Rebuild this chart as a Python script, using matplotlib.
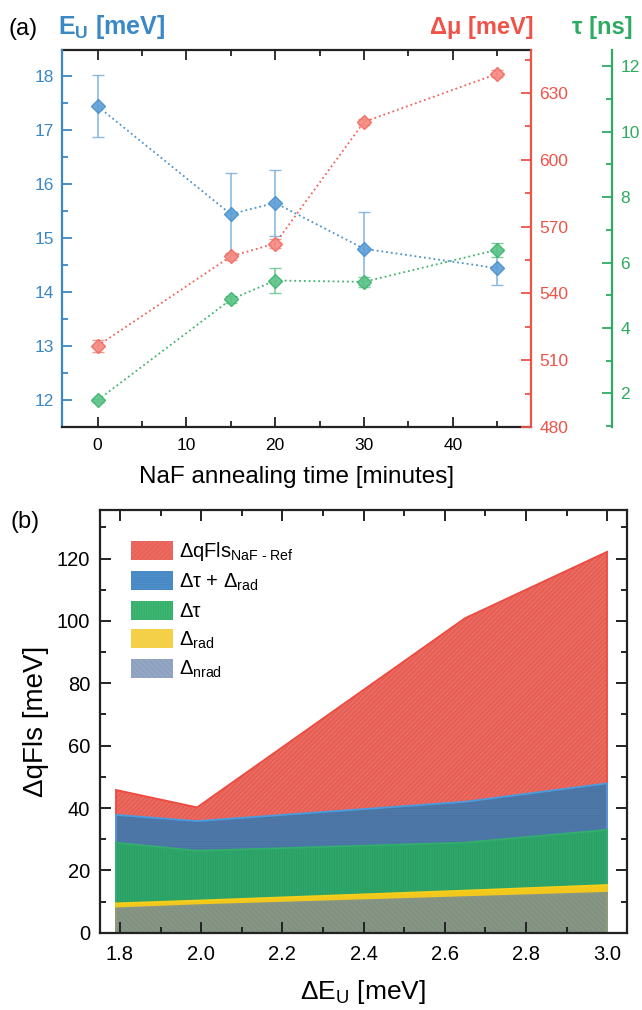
# Two-panel figure: (a) E_U, delta mu and tau vs NaF annealing time, (b) qFLS loss breakdown
import numpy as np
import matplotlib
matplotlib.use("Agg")
import matplotlib.pyplot as plt
import matplotlib.patches as mpatches
from matplotlib.ticker import MultipleLocator, FormatStrFormatter, NullFormatter

plt.rcParams['font.family'] = ['Liberation Sans', 'DejaVu Sans']
plt.rcParams['mathtext.fontset'] = 'custom'
plt.rcParams['mathtext.rm'] = 'Liberation Sans'
plt.rcParams['mathtext.it'] = 'Liberation Sans:italic'
plt.rcParams['mathtext.bf'] = 'Liberation Sans:bold'
plt.rcParams['hatch.linewidth'] = 0.6

# ---- panel (a) data ----
anneal_time = [0, 15, 20, 30, 45]
e_u = [17.44, 15.44, 15.65, 14.80, 14.44]
e_u_err = [0.58, 0.76, 0.61, 0.68, 0.31]
delta_mu = [516.4, 556.6, 562.4, 617.0, 638.6]
delta_mu_err = [2.7, 1.5, 2.0, 1.5, 1.5]
tau_ns = [1.79, 4.87, 5.45, 5.41, 6.39]
tau_err = [0.05, 0.1, 0.37, 0.15, 0.22]

# ---- panel (b) data ----
delta_eu = [1.79, 1.99, 2.65, 3.0]
qfls_naf_ref = [45.8, 40.2, 100.9, 122.2]
tau_plus_rad = [37.8, 35.8, 42.0, 47.9]
tau_only = [28.9, 26.3, 28.9, 33.0]
rad_only = [9.4, 10.3, 13.5, 15.3]
nrad_only = [7.8, 8.8, 11.4, 12.8]

BLUE = '#3a88c6'
RED = '#ef5348'
GREEN = '#2eab62'
DARK = '#222222'

W, H = 642, 1010
fig = plt.figure(figsize=(W / 100, H / 100), dpi=100)


def box(l, t, r, b):
    return [l / W, 1 - b / H, (r - l) / W, (b - t) / H]


# ================= panel (a) =================
ax1 = fig.add_axes(box(62, 50, 531, 427))
ax2 = ax1.twinx()
ax3 = ax1.twinx()
ax3.spines['right'].set_position(('axes', 1.1727))

ax1.errorbar(anneal_time, e_u, yerr=e_u_err, fmt='D', ls=':', lw=1.3, color=BLUE,
             ms=7.5, mfc='#5d9fd6', mec='#4a90cc', alpha=0.9,
             ecolor='#7fb2dc', elinewidth=1.2, capsize=4, capthick=1.0, zorder=3)
ax2.errorbar(anneal_time, delta_mu, yerr=delta_mu_err, fmt='D', ls=':', lw=1.3, color=RED,
             ms=7.5, mfc='#f48a80', mec='#f06a60', alpha=0.9,
             ecolor='#f28f86', elinewidth=1.2, capsize=4, capthick=1.0)
ax3.errorbar(anneal_time, tau_ns, yerr=tau_err, fmt='D', ls=':', lw=1.3, color=GREEN,
             ms=7.5, mfc='#5cc487', mec='#3cb36e', alpha=0.9,
             ecolor='#6cc893', elinewidth=1.2, capsize=4, capthick=1.0)

ax1.set_xlim(-4, 48.8)
ax1.set_ylim(11.5, 18.48)
ax2.set_ylim(480, 649.3)
ax3.set_ylim(0.97, 12.5)

ax1.xaxis.set_major_locator(MultipleLocator(10))
ax1.xaxis.set_minor_locator(MultipleLocator(5))
ax1.yaxis.set_major_locator(MultipleLocator(1))
ax1.yaxis.set_minor_locator(MultipleLocator(0.5))
ax2.yaxis.set_major_locator(MultipleLocator(30))
ax2.yaxis.set_minor_locator(MultipleLocator(15))
ax3.yaxis.set_major_locator(MultipleLocator(2))
ax3.yaxis.set_minor_locator(MultipleLocator(1))

ax1.tick_params(axis='x', which='both', direction='in', labelsize=12.5, width=1.3,
                color=DARK, pad=8)
ax1.tick_params(axis='x', which='major', length=7)
ax1.tick_params(axis='x', which='minor', length=4)
ax1.tick_params(axis='y', which='both', direction='in', colors=BLUE, labelsize=12.5,
                width=1.3, pad=6)
ax1.tick_params(axis='y', which='major', length=7)
ax1.tick_params(axis='y', which='minor', length=4)
for ax, c in [(ax2, RED), (ax3, GREEN)]:
    ax.tick_params(axis='y', which='both', direction='in', colors=c, labelsize=12.5,
                   width=1.3, pad=6)
    ax.tick_params(axis='y', which='major', length=7)
    ax.tick_params(axis='y', which='minor', length=4)

ax1.spines['bottom'].set_color(DARK)
ax1.spines['bottom'].set_linewidth(1.6)
ax1.spines['top'].set_visible(False)
ax1.spines['left'].set_color(BLUE)
ax1.spines['left'].set_linewidth(1.6)
ax1.spines['right'].set_visible(False)
for ax in (ax2, ax3):
    for s in ['bottom', 'left', 'top']:
        ax.spines[s].set_visible(False)
ax2.spines['right'].set_color(RED)
ax2.spines['right'].set_linewidth(1.6)
ax3.spines['right'].set_color(GREEN)
ax3.spines['right'].set_linewidth(1.6)

# top frame with inward ticks
top = ax1.secondary_xaxis('top')
top.xaxis.set_major_locator(MultipleLocator(10))
top.xaxis.set_minor_locator(MultipleLocator(5))
top.xaxis.set_major_formatter(NullFormatter())
top.tick_params(which='both', direction='in', width=1.3, color=DARK)
top.tick_params(which='major', length=7)
top.tick_params(which='minor', length=4)
top.spines['top'].set_color(DARK)
top.spines['top'].set_linewidth(1.6)

ax1.set_xlabel('NaF annealing time [minutes]', fontsize=17.5, labelpad=9)

fig.text(9 / W, 1 - 35 / H, '(a)', fontsize=17, va='baseline', ha='left')
fig.text(58 / W, 1 - 34 / H, r'E$_{\mathbf{U}}$ [meV]', fontsize=18, fontweight='bold',
         color=BLUE, va='baseline', ha='left')
fig.text(534 / W, 1 - 34 / H, 'Δμ [meV]', fontsize=17, fontweight='bold',
         color=RED, va='baseline', ha='right')
fig.text(572 / W, 1 - 34 / H, 'τ [ns]', fontsize=17, fontweight='bold',
         color=GREEN, va='baseline', ha='left')

# ================= panel (b) =================
bx = fig.add_axes(box(100, 510, 626.7, 932.7))

layers = [
    # values, face, hatch colour, hatch, outline, legend face, legend hatch colour, label
    (qfls_naf_ref, '#ea6a60', '#e2554b', '///////', '#ee4a40', '#ec6a60', '#e35d53',
     r'ΔqFls$_{\mathrm{NaF\ ‐\ Ref}}$'),
    (tau_plus_rad, '#4d78a8', '#4a73a2', '-------', '#4a9be0', '#4c8fca', '#4786c0',
     r'Δτ + Δ$_{\mathrm{rad}}$'),
    (tau_only, '#2fa76b', '#2a9d63', '|||||||', '#32ae6e', '#3db772', '#35ab69',
     r'Δτ'),
    (rad_only, '#f2c81c', '#eec016', '', '#f5cf1a', '#f3d048', '#f3d048',
     r'Δ$_{\mathrm{rad}}$'),
    (nrad_only, '#869584', '#7d8d7e', '\\\\\\\\\\\\', '#869584', '#93a6c4', '#879bba',
     r'Δ$_{\mathrm{nrad}}$'),
]

handles = []
for vals, face, hcol, hatch, line, lface, lhcol, label in layers:
    bx.fill_between(delta_eu, 0, vals, facecolor=face, edgecolor=hcol, hatch=hatch,
                    linewidth=0)
    bx.plot(delta_eu, vals, color=line, lw=1.3)
    bx.vlines([delta_eu[0], delta_eu[-1]], 0, [vals[0], vals[-1]], color=line, lw=1.3)
    handles.append(mpatches.Patch(facecolor=lface, edgecolor=lhcol, hatch=hatch,
                                  linewidth=0, label=label))

bx.set_xlim(1.751, 3.048)
bx.set_ylim(0, 135.6)
bx.xaxis.set_major_locator(MultipleLocator(0.2))
bx.xaxis.set_minor_locator(MultipleLocator(0.1))
bx.yaxis.set_major_locator(MultipleLocator(20))
bx.yaxis.set_minor_locator(MultipleLocator(10))
bx.xaxis.set_major_formatter(FormatStrFormatter('%.1f'))
bx.tick_params(which='both', direction='in', top=True, right=True, labelsize=14.5,
               width=1.4, color=DARK)
bx.tick_params(which='major', length=8)
bx.tick_params(which='minor', length=4.5)
bx.tick_params(axis='x', pad=9)
bx.tick_params(axis='y', pad=7)
for s in bx.spines.values():
    s.set_linewidth(1.6)
    s.set_color(DARK)

bx.set_xlabel(r'ΔE$_{\mathrm{U}}$ [meV]', fontsize=19, labelpad=10)
bx.set_ylabel('ΔqFls [meV]', fontsize=20, labelpad=6)

bx.legend(handles=handles, loc='upper left', bbox_to_anchor=(0.059, 0.928),
          frameon=False, fontsize=14.5, handlelength=2.1, handleheight=1.05,
          handletextpad=0.3, labelspacing=0.4, borderpad=0, borderaxespad=0)

fig.text(11 / W, 1 - 528 / H, '(b)', fontsize=17, va='baseline', ha='left')

fig.savefig('out.png', dpi=100)
